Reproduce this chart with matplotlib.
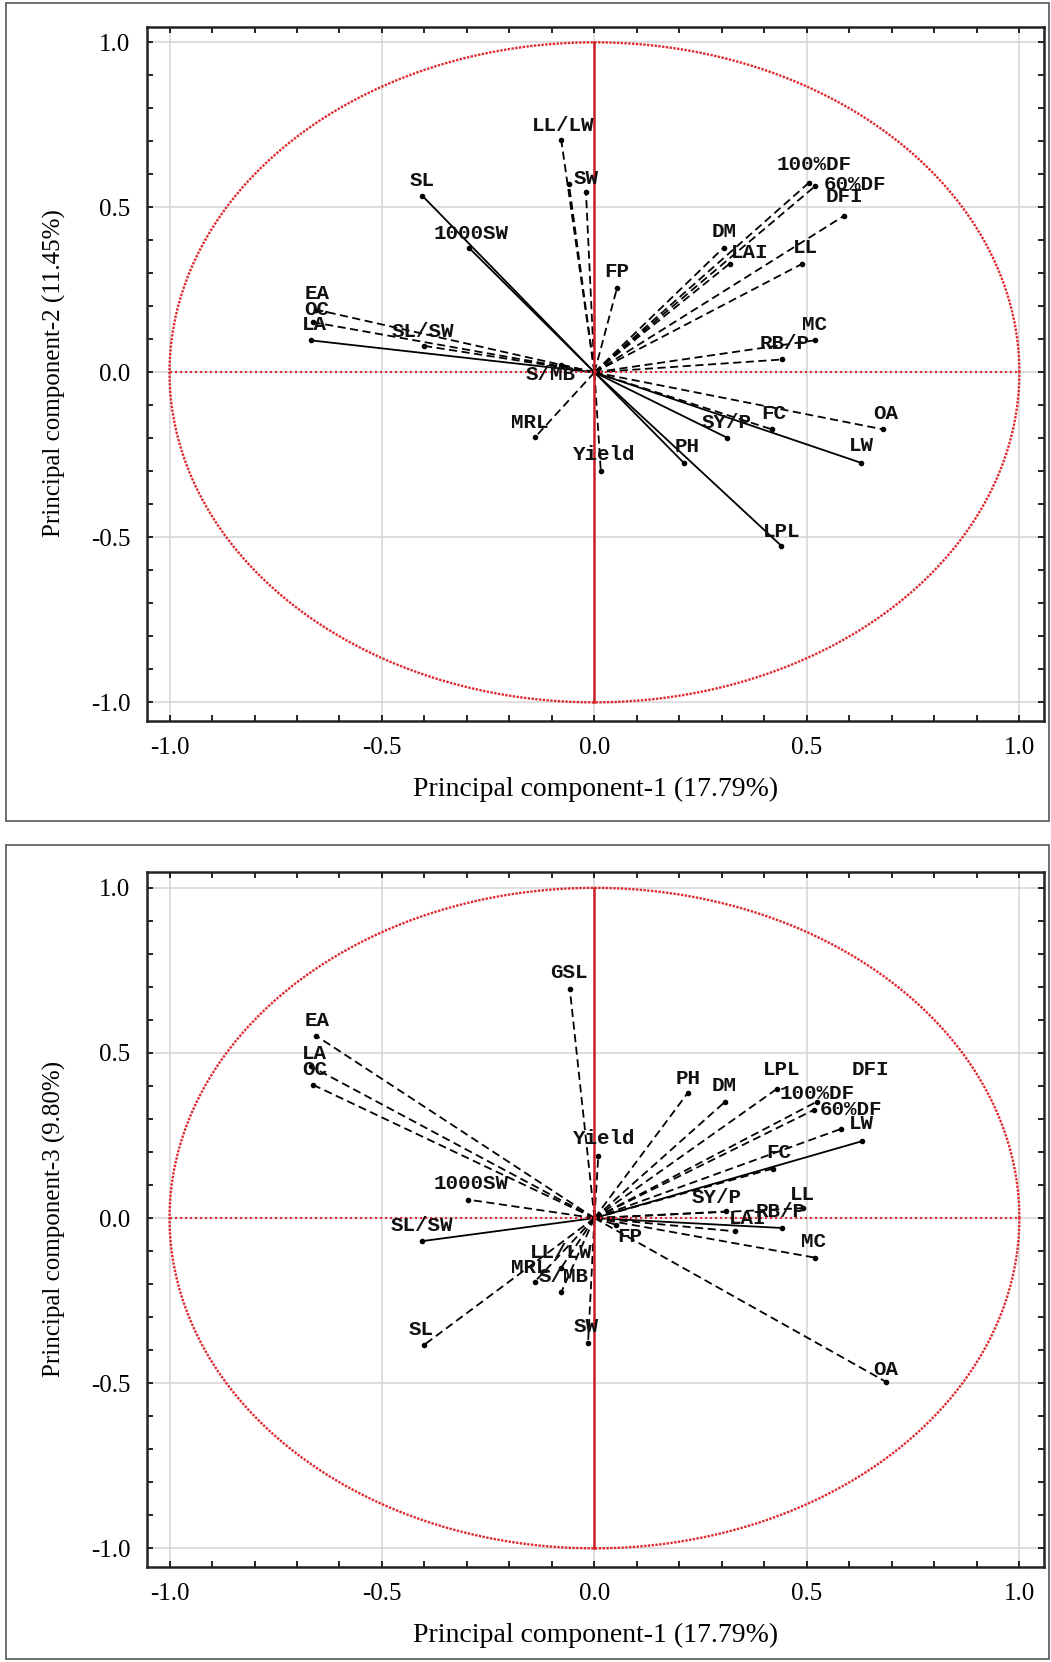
import matplotlib
matplotlib.use('Agg')
import matplotlib.pyplot as plt
import numpy as np
from matplotlib.patches import Rectangle

# ---------------- data ----------------
# Panel 1: loadings on PC1 and PC2
vars1 = ['LL/LW', 'SW', 'GSL', 'SL', '1000SW', 'FP', 'EA', 'OC', 'LA', 'SL/SW',
         'S/MB', 'MRL', 'Yield', 'PH', 'LPL', 'SY/P', 'FC', 'OA', 'LW', 'MC',
         'RB/P', 'LL', 'LAI', 'DM', '100%DF', '60%DF', 'DFI']
pc1_a = [-0.078, -0.020, -0.060, -0.405, -0.295, 0.053, -0.655, -0.663, -0.668, -0.400,
         -0.078, -0.140, 0.015, 0.210, 0.440, 0.312, 0.418, 0.680, 0.627, 0.518,
         0.442, 0.489, 0.318, 0.304, 0.505, 0.520, 0.587]
pc2_a = [0.703, 0.548, 0.571, 0.535, 0.377, 0.255, 0.190, 0.152, 0.097, 0.080,
         0.023, -0.197, -0.300, -0.274, -0.526, -0.198, -0.173, -0.173, -0.274, 0.097,
         0.039, 0.329, 0.329, 0.378, 0.575, 0.565, 0.474]
solid_a = ['SL', '1000SW', 'LA', 'PH', 'LPL', 'SY/P', 'LW']

# Panel 2: loadings on PC1 and PC3
vars2 = ['GSL', 'EA', 'LA', 'OC', 'Yield', '1000SW', 'SL/SW', 'LL/LW', 'MRL', 'S/MB',
         'SL', 'SW', 'PH', 'DM', 'LPL', '100%DF', '60%DF', 'DFI', 'LW', 'FC',
         'LL', 'SY/P', 'RB/P', 'LAI', 'MC', 'OA', 'FP']
pc1_b = [-0.058, -0.655, -0.668, -0.663, 0.009, -0.298, -0.407, -0.078, -0.140, -0.078,
         -0.402, -0.015, 0.219, 0.308, 0.429, 0.524, 0.517, 0.580, 0.630, 0.420,
         0.490, 0.310, 0.442, 0.330, 0.520, 0.685, 0.050]
pc3_b = [0.694, 0.552, 0.460, 0.404, 0.187, 0.056, -0.070, -0.150, -0.192, -0.224,
         -0.385, -0.378, 0.378, 0.353, 0.391, 0.353, 0.328, 0.270, 0.233, 0.150,
         0.030, 0.020, -0.030, -0.040, -0.120, -0.495, -0.020]
solid_b = ['SL/SW', 'LW', 'RB/P']

tick_vals = [-1.0, -0.5, 0.0, 0.5, 1.0]
tick_labels = ['-1.0', '-0.5', '0.0', '0.5', '1.0']
xlabel = 'Principal component-1 (17.79%)'
ylabels = ['Principal component-2 (11.45%)', 'Principal component-3 (9.80%)']

# label offsets (pixels) relative to loading end point
offs_a = {'LL/LW': (2, 15), 'SW': (0, 13), 'GSL': None, 'SL': (0, 15), '1000SW': (2, 14),
          'FP': (0, 17), 'EA': (1, 16), 'OC': (4, 13), 'LA': (4, 16), 'SL/SW': (-2, 14),
          'S/MB': (-11, -10), 'MRL': (-5, 15), 'Yield': (3, 17), 'PH': (3, 16),
          'LPL': (0, 14), 'SY/P': (0, 15), 'FC': (2, 16), 'OA': (2, 16), 'LW': (0, 17),
          'MC': (0, 16), 'RB/P': (2, 16), 'LL': (3, 16), 'LAI': (20, 11), 'DM': (0, 16),
          '100%DF': (5, 18), '60%DF': (40, 1), 'DFI': (0, 19)}
offs_b = {'GSL': (-1, 16), 'EA': (1, 15), 'LA': (4, 13), 'OC': (2, 15), 'Yield': (6, 18),
          '1000SW': (3, 16), 'SL/SW': (0, 16), 'LL/LW': (0, 15), 'MRL': (-5, 14),
          'S/MB': (2, 16), 'SL': (-2, 16), 'SW': (-2, 16), 'PH': (1, 15), 'DM': (-1, 16),
          'LPL': (5, 19), '100%DF': (0, 8), '60%DF': (37, 0), 'DFI': (29, 59),
          'LW': (-1, 18), 'FC': (6, 16), 'LL': (0, 14), 'SY/P': (-10, 14),
          'RB/P': (-2, 17), 'LAI': (13, 13), 'MC': (-2, 16), 'OA': (0, 12), 'FP': (14, -12)}

# ---------------- figure ----------------
W, H = 1051, 1662
fig = plt.figure(figsize=(W / 100, H / 100), dpi=100)
fig.patch.set_facecolor('white')

# panel borders
for (y0, y1) in [(3, 821), (845, 1659)]:
    fig.patches.append(Rectangle((6 / W, 1 - y1 / H), (W - 8) / W, (y1 - y0) / H,
                                 transform=fig.transFigure, fill=False,
                                 edgecolor='#555555', lw=1.2))

axes_px = [(26.5, 720.5), (872, 1566.5)]
left_px, right_px = 147, 1043.6
RED = '#e0282e'
serif = 'Liberation Serif'

panels = [(vars1, pc1_a, pc2_a, solid_a, offs_a), (vars2, pc1_b, pc3_b, solid_b, offs_b)]
for k, (names, xs, ys, solids, offs) in enumerate(panels):
    top, bot = axes_px[k]
    ax = fig.add_axes([left_px / W, 1 - bot / H, (right_px - left_px) / W, (bot - top) / H])
    ax.set_xlim(-1.053, 1.057)
    ax.set_ylim(-1.055, 1.048)

    ax.set_xticks(tick_vals)
    ax.set_xticklabels(tick_labels)
    ax.set_yticks(tick_vals)
    ax.set_yticklabels(tick_labels)
    ax.set_xticks(np.round(np.arange(-1.0, 1.01, 0.1), 2), minor=True)
    ax.set_yticks(np.round(np.arange(-1.0, 1.01, 0.1), 2), minor=True)
    ax.tick_params(which='both', direction='in', top=True, right=True,
                   length=4, width=1.2, color='black')
    ax.tick_params(axis='x', which='major', pad=12, labelsize=18)
    ax.tick_params(axis='y', which='major', pad=12, labelsize=18)
    for lab in ax.get_xticklabels() + ax.get_yticklabels():
        lab.set_fontfamily(serif)
    ax.grid(True, which='major', color='#d4d4d4', lw=1.1)
    ax.set_axisbelow(True)
    for s in ax.spines.values():
        s.set_linewidth(1.8)
        s.set_color('#222222')

    # unit circle and red axes
    th = np.linspace(0, 2 * np.pi, 1441)
    ax.plot(np.cos(th), np.sin(th), color=RED, lw=1.7, ls=(0, (1.0, 0.6)), zorder=2)
    ax.plot([-1, 1], [0, 0], color=RED, lw=1.5, ls=(0, (1.0, 1.4)), zorder=4)
    ax.plot([0, 0], [-1, 1], color='#cc2026', lw=1.8, zorder=4)

    for name, x, y in zip(names, xs, ys):
        ls = '-' if name in solids else (0, (4.5, 2.5))
        ax.plot([0, x], [0, y], color='black', lw=1.3, ls=ls, zorder=3)
        ax.plot([x], [y], 'o', color='black', ms=3, zorder=3)
        off = offs.get(name)
        if off is None:
            continue
        ax.annotate(name, (x, y), xytext=off, textcoords='offset pixels',
                    ha='center', va='center', fontsize=15, fontweight='bold',
                    family='Liberation Mono', color='#111111', zorder=5)

    ax.set_xlabel(xlabel, fontsize=20, family=serif, labelpad=13)
    ax.set_ylabel(ylabels[k], fontsize=18, family=serif, labelpad=18)

fig.savefig('out.png', dpi=100, facecolor='white')
